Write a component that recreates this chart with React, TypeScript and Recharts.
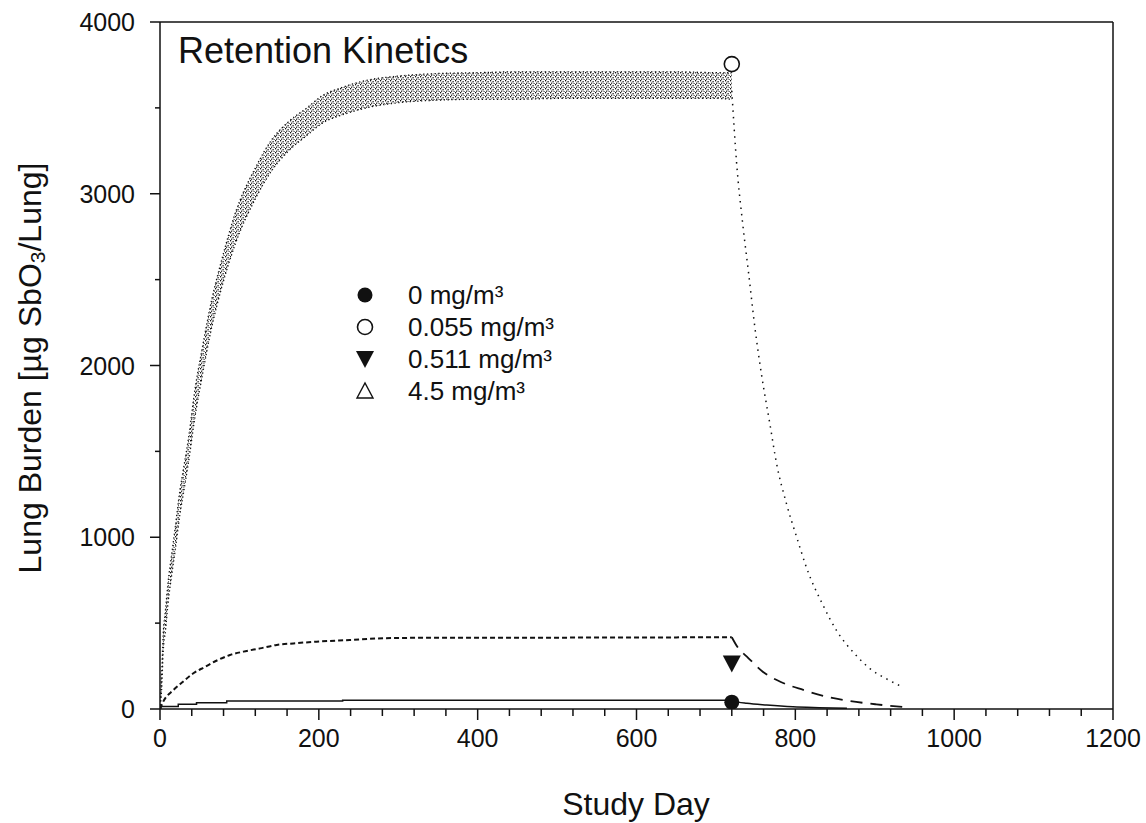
import React from "react"
import { ComposedChart, XAxis, YAxis, Line, Area, Scatter, ReferenceLine, Legend } from "recharts"

const FONT = '"Liberation Sans", Arial, Helvetica, sans-serif'
const INK = "#111111"

// axes: minor ticks every 40 days / 500 units, labels every 200 days / 1000 units
const xTicks = [0, 40, 80, 120, 160, 200, 240, 280, 320, 360, 400, 440, 480, 520, 560, 600, 640, 680, 720, 760, 800, 840, 880, 920, 960, 1000, 1040, 1080, 1120, 1160, 1200]
const xLabels = [0, 200, 400, 600, 800, 1000, 1200]
const yTicks = [0, 500, 1000, 1500, 2000, 2500, 3000, 3500, 4000]
const yLabels = [0, 1000, 2000, 3000, 4000]

// highest model curve: exposure phase is a saw-tooth band (low/high envelope), then recovery
const bandDays = [0, 2, 4, 7, 10, 15, 19, 25, 30, 36, 44, 52, 65, 78, 95, 120, 140, 162, 185, 204, 230, 260, 300, 350, 400, 450, 500, 550, 600, 650, 700, 720]
const bandLow = [0, 110, 330, 460, 610, 790, 920, 1130, 1270, 1440, 1700, 1910, 2220, 2460, 2710, 2970, 3130, 3250, 3340, 3410, 3460, 3500, 3530, 3545, 3550, 3550, 3555, 3555, 3555, 3555, 3555, 3550]
const bandHigh = [0, 190, 430, 580, 730, 910, 1050, 1270, 1410, 1580, 1860, 2070, 2380, 2620, 2890, 3150, 3310, 3420, 3500, 3570, 3620, 3660, 3685, 3700, 3705, 3710, 3710, 3710, 3710, 3710, 3705, 3705]
const highDecayDays = [720, 726, 734, 741, 749, 758, 768, 776, 789, 802, 814, 835, 852, 875, 894, 915, 935]
const highDecayValues = [3600, 3183, 2814, 2544, 2224, 1930, 1659, 1438, 1193, 996, 824, 603, 456, 320, 235, 175, 128]

// middle model curve (dashed)
const midRiseDays = [0, 4, 17, 29, 42, 57, 71, 88, 105, 126, 147, 168, 197, 239, 281, 350, 450, 550, 650, 720]
const midRiseValues = [0, 42, 111, 159, 208, 246, 281, 314, 334, 353, 373, 382, 392, 402, 412, 415, 415, 416, 417, 418]
const midDecayDays = [720, 728, 739, 759, 781, 810, 839, 868, 902, 940]
const midDecayValues = [418, 355, 305, 217, 159, 111, 72, 47, 27, 10]

// lowest model curve (solid, stepped)
const lowRiseDays = [0, 1, 23, 46, 84, 230, 720]
const lowRiseValues = [0, 15, 27, 37, 47, 51, 51]
const lowDecayDays = [720, 728, 739, 764, 797, 830, 865]
const lowDecayValues = [51, 40, 33, 23, 13, 8, 4]

// measured points at end of exposure
const legendLabels = ["0 mg/m³", "0.055 mg/m³", "0.511 mg/m³", "4.5 mg/m³"]
const legendShapes = ["dot", "ring", "down", "upOpen"]
const pointDays = [720, 720, 720]
const pointValues = [40, 3755, 265]

const toRows = (days: number[], values: number[]) => days.map((d, i) => ({ day: d, value: values[i] }))
const bandRows = bandDays.map((d, i) => ({ day: d, low: bandLow[i], high: bandHigh[i], band: [bandLow[i], bandHigh[i]] }))

function Marker({ kind, cx, cy }: { kind: string; cx: number; cy: number }) {
  if (kind === "dot") return <circle cx={cx} cy={cy} r={7.5} fill={INK} />
  if (kind === "ring") return <circle cx={cx} cy={cy} r={7.5} fill="#fff" stroke={INK} strokeWidth={1.6} />
  if (kind === "down")
    return <polygon points={`${cx - 9},${cy - 8} ${cx + 9},${cy - 8} ${cx},${cy + 9}`} fill={INK} />
  return (
    <polygon points={`${cx - 8},${cy + 7} ${cx + 8},${cy + 7} ${cx},${cy - 8}`} fill="#fff" stroke={INK} strokeWidth={1.4} />
  )
}

function XTick(props: any) {
  const { x, y, payload } = props
  const major = xLabels.includes(payload.value)
  return (
    <g>
      <line x1={x} x2={x} y1={y} y2={y + (major ? 11 : 7)} stroke={INK} strokeWidth={1.5} />
      {major && (
        <text x={x} y={y + 38} textAnchor="middle" fontSize={25} fontFamily={FONT} fill={INK}>
          {payload.value}
        </text>
      )}
    </g>
  )
}

function YTick(props: any) {
  const { x, y, payload } = props
  const major = yLabels.includes(payload.value)
  return (
    <g>
      <line x1={x - (major ? 10 : 5)} x2={x} y1={y} y2={y} stroke={INK} strokeWidth={1.5} />
      {major && (
        <text x={x - 25} y={y + 9} textAnchor="end" fontSize={25} fontFamily={FONT} fill={INK}>
          {payload.value}
        </text>
      )}
    </g>
  )
}

function LegendBox() {
  return (
    <div style={{ fontFamily: FONT, fontSize: 26, color: INK }}>
      {legendLabels.map((label, i) => (
        <div key={label} style={{ height: 32, display: "flex", alignItems: "center" }}>
          <svg width={30} height={32} style={{ marginRight: 28 }}>
            <Marker kind={legendShapes[i]} cx={15} cy={16} />
          </svg>
          <span>{label}</span>
        </div>
      ))}
    </div>
  )
}

export default function App() {
  return (
    <div style={{ position: "absolute", left: 0, top: 0 }}>
      <ComposedChart width={1146} height={823} margin={{ top: 22, right: 33, left: 0, bottom: 0 }}>
        <defs>
          <pattern id="sawDots" width={5} height={4} patternUnits="userSpaceOnUse">
            <rect x={0} y={0} width={1.2} height={1.4} fill={INK} />
            <rect x={2.5} y={1} width={1.2} height={1.4} fill={INK} />
            <rect x={1} y={2.6} width={1.2} height={1.2} fill={INK} />
            <rect x={3.6} y={3} width={1} height={1} fill={INK} />
          </pattern>
        </defs>
        <XAxis
          dataKey="day"
          type="number"
          domain={[0, 1200]}
          ticks={xTicks}
          interval={0}
          tickSize={0}
          tickMargin={0}
          tick={<XTick />}
          height={114}
          stroke={INK}
          strokeWidth={1.5}
          allowDataOverflow
          label={{
            content: () => (
              <text x={636} y={815} textAnchor="middle" fontSize={32} fontFamily={FONT} fill={INK}>
                Study Day
              </text>
            ),
          }}
        />
        <YAxis
          type="number"
          domain={[0, 4000]}
          ticks={yTicks}
          interval={0}
          tickSize={0}
          tickMargin={0}
          tick={<YTick />}
          width={160}
          stroke={INK}
          strokeWidth={1.5}
          allowDataOverflow
          label={{
            content: () => (
              <text
                x={30}
                y={368}
                transform="rotate(-90 30 368)"
                textAnchor="middle"
                dominantBaseline="central"
                fontSize={32}
                fontFamily={FONT}
                fill={INK}
              >
                Lung Burden [µg SbO
                <tspan dy={7} fontSize={21}>3</tspan>
                <tspan dy={-7}>/Lung]</tspan>
              </text>
            ),
          }}
        />
        <ReferenceLine
          y={4000}
          stroke={INK}
          strokeWidth={1.5}
          label={{
            content: () => (
              <text x={178} y={63} fontSize={36} fontFamily={FONT} fill={INK}>
                Retention Kinetics
              </text>
            ),
          }}
        />
        <ReferenceLine x={1200} stroke={INK} strokeWidth={1.5} />

        <Area data={bandRows} dataKey="band" type="monotone" fill="url(#sawDots)" stroke="none" fillOpacity={1} isAnimationActive={false} activeDot={false} />
        <Line data={bandRows} dataKey="high" type="monotone" stroke={INK} strokeWidth={1.3} strokeDasharray="1.3 2.5" dot={false} activeDot={false} isAnimationActive={false} />
        <Line data={bandRows} dataKey="low" type="monotone" stroke={INK} strokeWidth={1.3} strokeDasharray="1.3 2.5" dot={false} activeDot={false} isAnimationActive={false} />
        <Line data={toRows(highDecayDays, highDecayValues)} dataKey="value" type="monotone" stroke={INK} strokeWidth={1.5} strokeDasharray="1.5 5" dot={false} activeDot={false} isAnimationActive={false} />

        <Line data={toRows(midRiseDays, midRiseValues)} dataKey="value" type="monotone" stroke={INK} strokeWidth={2} strokeDasharray="5 3" dot={false} activeDot={false} isAnimationActive={false} />
        <Line data={toRows(midDecayDays, midDecayValues)} dataKey="value" type="monotone" stroke={INK} strokeWidth={1.8} strokeDasharray="12 8" dot={false} activeDot={false} isAnimationActive={false} />

        <Line data={toRows(lowRiseDays, lowRiseValues)} dataKey="value" type="stepAfter" stroke={INK} strokeWidth={1.5} dot={false} activeDot={false} isAnimationActive={false} />
        <Line data={toRows(lowDecayDays, lowDecayValues)} dataKey="value" type="monotone" stroke={INK} strokeWidth={1.5} dot={false} activeDot={false} isAnimationActive={false} />

        {pointDays.map((d, i) => (
          <Scatter
            key={legendLabels[i]}
            data={[{ day: d, value: pointValues[i] }]}
            dataKey="value"
            isAnimationActive={false}
            shape={(p: any) => <Marker kind={legendShapes[i]} cx={p.cx} cy={p.cy} />}
          />
        ))}

        <Legend
          layout="vertical"
          align="center"
          verticalAlign="middle"
          content={() => <LegendBox />}
          wrapperStyle={{ left: 350, top: 279, width: 300 }}
        />
      </ComposedChart>
    </div>
  )
}
